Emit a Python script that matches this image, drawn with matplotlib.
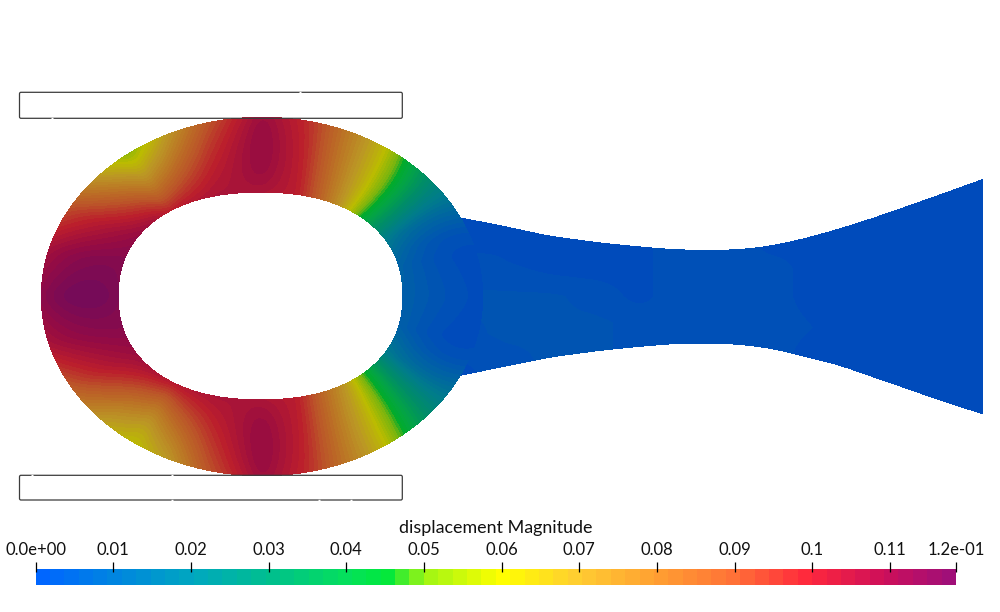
import numpy as np
import matplotlib
matplotlib.use("Agg")
import matplotlib.pyplot as plt
from matplotlib.colors import LinearSegmentedColormap, ListedColormap, BoundaryNorm
from matplotlib.patches import FancyBboxPatch

plt.rcParams['font.family'] = ['Lato', 'DejaVu Sans']

# ---------- data ----------
TITLE = "displacement Magnitude"
VMAX = 0.1185
TICK_VALUES = [0.0, 0.01, 0.02, 0.03, 0.04, 0.05, 0.06, 0.07, 0.08, 0.09, 0.10, 0.11, VMAX]
TICK_LABELS = ["0.0e+00", "0.01", "0.02", "0.03", "0.04", "0.05", "0.06",
               "0.07", "0.08", "0.09", "0.1", "0.11", "1.2e-01"]

CMAP_STOPS = [0.0, 0.01, 0.02, 0.03, 0.04, 0.045, 0.05, 0.06, 0.07, 0.08, 0.09, 0.10, 0.11, VMAX]
CMAP_RGB = [(0, 102, 255), (0, 135, 222), (0, 168, 190), (0, 192, 140), (5, 225, 90), (0, 232, 60),
            (160, 245, 20), (255, 255, 0), (255, 205, 50), (255, 160, 50), (255, 115, 55),
            (255, 40, 60), (205, 15, 90), (160, 15, 120)]

# ring: magnitude against angle (degrees, counter-clockwise from the right)
RING_ANGLE = [0, 15, 22, 30, 40, 48, 52, 56, 60, 68, 78, 90, 105, 120, 127, 135, 150, 165, 180,
              195, 210, 225, 235, 245, 255, 270, 282, 292, 300, 304, 308, 312, 320, 330, 338, 345, 360]
RING_INNER = [.009, .010, .014, .020, .033, .045, .055, .064, .072, .085, .100, .104, .104, .100, .098, .104, .110, .114, .115,
              .113, .108, .103, .100, .102, .104, .104, .100, .085, .074, .068, .060, .050, .036, .020, .014, .009, .009]
RING_MID = [.004, .003, .005, .013, .031, .046, .055, .063, .069, .082, .099, .110, .097, .080, .074, .084, .101, .113, .1185,
            .111, .100, .083, .075, .085, .096, .110, .099, .082, .069, .063, .055, .046, .031, .013, .005, .002, .004]
RING_OUTER = [.001, .001, .004, .014, .027, .041, .050, .060, .067, .080, .097, .108, .088, .062, .053, .064, .090, .106, .112,
              .105, .088, .067, .060, .070, .088, .108, .097, .080, .067, .060, .050, .041, .027, .014, .004, .001, .001]

# tail: outline and magnitude by station (top to bottom across the width)
TAIL_X = [461, 500, 550, 600, 640, 673, 707, 740, 773, 807, 840, 873, 907, 940, 982]
TAIL_TOP = [218.3, 226, 236.7, 243.3, 247.3, 250, 250.7, 250, 246, 238.3, 229, 218.5, 206.7, 195, 180]
TAIL_BOTTOM = [375, 366.7, 356.7, 350, 346, 343.3, 342.7, 344, 348.3, 356.7, 365, 376.7, 388.3, 400, 413.3]
TAIL_VALUES = [
    [.001, .002, .004, .003, .001],
    [.001, .002, .004, .004, .003],
    [.001, .001, .004, .004, .004],
    [.001, .001, .003, .004, .004],
    [.001, .001, .001, .003, .003],
    [.003, .003, .003, .003, .003],
    [.003, .003, .003, .003, .003],
    [.003, .003, .003, .003, .003],
    [.001, .003, .003, .003, .003],
    [.001, .001, .001, .002, .001],
    [.001, .001, .001, .001, .001],
    [.001, .001, .001, .001, .001],
    [.001, .001, .001, .001, .001],
    [.001, .001, .001, .001, .001],
    [.001, .001, .001, .001, .001],
]

# geometry of the ring and plates, in picture pixels
OUTER = dict(cx=262.0, cy=296.5, a=220.5, b=179.0)
INNER = dict(cx=260.5, cy=296.0, a=142.5, b=104.0, p=2.25)
PLATES = [(19.5, 92.3, 402.3, 118.3), (19.5, 475.3, 402.3, 500.0)]
PLATE_GAPS = [(300, 92.3), (52, 118.3), (32, 475.3), (172, 475.3), (172, 500.0), (319, 500.0), (351, 500.0)]

LIGHTING = 0.735

# ---------- colour tables ----------
N = 64
base = LinearSegmentedColormap.from_list(
    "disp", [(s / VMAX, tuple(c / 255 for c in rgb)) for s, rgb in zip(CMAP_STOPS, CMAP_RGB)], N=N)
colors = base(np.arange(N))
lit = colors.copy()
lit[:, :3] *= LIGHTING
bar_cmap = ListedColormap(colors)
lit_cmap = ListedColormap(lit)
levels = np.linspace(0, VMAX, N + 1)
norm = BoundaryNorm(levels, N)

# ---------- figure ----------
W, H = 1000, 612
fig = plt.figure(figsize=(W / 100, H / 100), dpi=100, facecolor="white")
ax = fig.add_axes([0, 0, 1, 1])
ax.set_xlim(0, W)
ax.set_ylim(H, 0)
ax.axis("off")


def soften(a, width, periodic=False):
    """Moving average along axis 0, so the read-off table shows no kinks."""
    kernel = np.ones(width) / width
    pad = width
    if periodic:
        padded = np.concatenate([a[-pad - 1:-1], a, a[1:pad + 1]])
    else:
        padded = np.concatenate([np.repeat(a[:1], pad, axis=0), a, np.repeat(a[-1:], pad, axis=0)])
    out = np.apply_along_axis(lambda v: np.convolve(v, kernel, mode="same"), 0, padded)
    return out[pad:-pad]


def fill(X, Y, Z):
    cs = ax.contourf(X, Y, np.clip(Z, 1e-5, VMAX - 1e-5), levels=levels, cmap=lit_cmap, norm=norm)
    cs.set_edgecolor("face")
    cs.set_linewidth(0.3)
    return cs


# tail
fx = np.linspace(TAIL_X[0], TAIL_X[-1], 522)
top = np.interp(fx, TAIL_X, TAIL_TOP)
bot = np.interp(fx, TAIL_X, TAIL_BOTTOM)
# keep the end points where they were read, smooth the polyline in between
sm_top, sm_bot = soften(top, 30), soften(bot, 30)
ramp = np.clip(np.minimum(fx - fx[0], fx[-1] - fx) / 30, 0, 1)
top = top * (1 - ramp) + sm_top * ramp
bot = bot * (1 - ramp) + sm_bot * ramp
frac_tail = np.linspace(0, 1, 41)
tv = np.array(TAIL_VALUES)
col = np.array([np.interp(fx, TAIL_X, tv[:, j]) for j in range(tv.shape[1])])
Zt = np.array([np.interp(frac_tail, np.linspace(0, 1, tv.shape[1]), col[:, i]) for i in range(fx.size)])
Zt = soften(Zt, 25)
Xt = np.repeat(fx[:, None], frac_tail.size, axis=1)
Yt = top[:, None] + (bot - top)[:, None] * frac_tail[None, :]
fill(Xt, Yt, Zt)

# ring
t = np.linspace(0, 360, 1441)
r = np.radians(t)
c, s = np.cos(r), np.sin(r)
ox, oy = OUTER["cx"] + OUTER["a"] * c, OUTER["cy"] - OUTER["b"] * s
e = 2 / INNER["p"]
ix = INNER["cx"] + INNER["a"] * np.sign(c) * np.abs(c) ** e
iy = INNER["cy"] - INNER["b"] * np.sign(s) * np.abs(s) ** e
frac = np.linspace(0, 1, 41)
vi, vm, vo = [np.interp(t, RING_ANGLE, v) for v in (RING_INNER, RING_MID, RING_OUTER)]
Zr = np.array([np.polyval(np.polyfit([0, 0.5, 1], [a, b, d], 2), frac) for a, b, d in zip(vi, vm, vo)])
Zr = soften(Zr, 17, periodic=True)
Xr = ix[:, None] + (ox - ix)[:, None] * frac[None, :]
Yr = iy[:, None] + (oy - iy)[:, None] * frac[None, :]
fill(Xr, Yr, Zr)

# plates
for x0, y0, x1, y1 in PLATES:
    ax.add_patch(FancyBboxPatch((x0, y0), x1 - x0, y1 - y0, boxstyle="round,pad=0,rounding_size=1.5",
                                fill=False, edgecolor="#3c3c3c", linewidth=0.9, zorder=5))
for gx, gy in PLATE_GAPS:
    ax.plot([gx - 1, gx + 1], [gy, gy], color="white", lw=1.0, zorder=6, solid_capstyle="butt")

# colour bar
BAR = (35.5, 569, 956, 585)
cax = fig.add_axes([BAR[0] / W, 1 - BAR[3] / H, (BAR[2] - BAR[0]) / W, (BAR[3] - BAR[1]) / H])
cax.pcolormesh(levels, [0, 1], ((levels[:-1] + levels[1:]) / 2)[None, :], cmap=bar_cmap, norm=norm)
cax.set_xlim(0, VMAX)
cax.set_ylim(0, 1)
for sp in cax.spines.values():
    sp.set_visible(False)
cax.set_yticks([])
cax.set_xticks(TICK_VALUES)
cax.set_xticklabels(TICK_LABELS, fontsize=12.0, color="#111111")
cax.tick_params(axis="x", which="major", bottom=False, top=False, labelbottom=False, labeltop=True, length=0, pad=7.7)
cax.vlines(TICK_VALUES, 1 - 3 / 16, 1 + 7.5 / 16, colors="black", linewidth=0.9, clip_on=False, zorder=5)
ax.text(495.5, 528, TITLE, ha="center", va="center", fontsize=12.9, color="#111111")

fig.savefig("out.png", dpi=100)
